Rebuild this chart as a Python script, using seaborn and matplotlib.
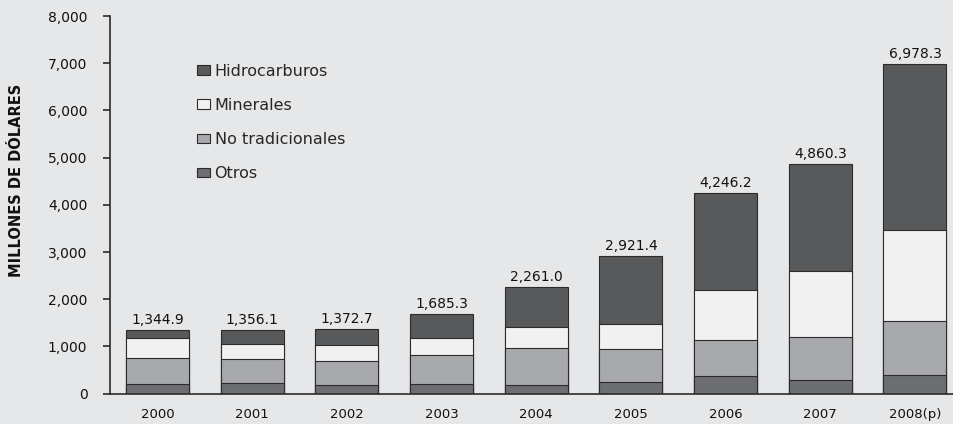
import matplotlib
matplotlib.use("Agg")
import matplotlib.pyplot as plt
import matplotlib.patches as mpatches
import seaborn as sns

# Data (millones de dólares)
years = ["2000", "2001", "2002", "2003", "2004", "2005", "2006", "2007", "2008(p)"]
otros = [200, 225, 185, 200, 180, 240, 370, 285, 390]
no_tradicionales = [550, 505, 510, 615, 790, 705, 770, 925, 1150]
minerales = [425, 330, 345, 370, 440, 535, 1050, 1385, 1935]
hidrocarburos = [169.9, 296.1, 332.7, 500.3, 851.0, 1441.4, 2056.2, 2265.3, 3503.3]
totals = [1344.9, 1356.1, 1372.7, 1685.3, 2261.0, 2921.4, 4246.2, 4860.3, 6978.3]

series_names = ["Hidrocarburos", "Minerales", "No tradicionales", "Otros"]
colors = {"Hidrocarburos": "#58595B", "Minerales": "#F1F1F2",
          "No tradicionales": "#A7A9AC", "Otros": "#6D6E71"}
bg = "#E6E7E8"
edge = "#2B2B2B"

sns.set_style("white")
plt.rcParams["font.family"] = ["DejaVu Sans"]

fig = plt.figure(figsize=(9.54, 4.24), dpi=100, facecolor=bg)
ax = fig.add_axes([110.3 / 954, 30.3 / 424, 852 / 954, 377.7 / 424])
ax.set_facecolor(bg)

# cumulative stacks, drawn from the tallest down
layers = [hidrocarburos, minerales, no_tradicionales, otros]
for k, name in enumerate(series_names):
    cum = [sum(vals) for vals in zip(*layers[k:])]
    sns.barplot(x=years, y=cum, color=colors[name], saturation=1, width=0.665,
                edgecolor=edge, linewidth=0.8, ax=ax, errorbar=None)

# total labels
for i, t in enumerate(totals):
    ax.annotate(f"{t:,.1f}", (i, t), xytext=(0, 2), textcoords="offset points",
                ha="center", va="bottom", fontsize=10, color="#111111")

ax.set_xlim(-0.5, len(years) - 0.5)
ax.set_ylim(0, 8000)
ax.set_yticks(range(0, 8001, 1000))
ax.set_yticklabels([f"{v:,}" for v in range(0, 8001, 1000)])
ax.set_xticks(range(len(years)))
ax.set_xticklabels(years)
ax.set_xticks([i - 0.5 for i in range(len(years) + 1)], minor=True)
ax.tick_params(axis="x", which="major", length=0, pad=10, labelsize=9.5, labelcolor="#111111")
ax.tick_params(axis="x", which="minor", length=4, width=1.2, color=edge, direction="out")
ax.tick_params(axis="y", length=5, width=1.2, color=edge, pad=11.5, labelsize=10,
               labelcolor="#111111", left=True)
ax.set_xlabel("")
ax.set_ylabel("")

for s in ["top", "right"]:
    ax.spines[s].set_visible(False)
for s in ["left", "bottom"]:
    ax.spines[s].set_color(edge)
    ax.spines[s].set_linewidth(1.2)

fig.text(17 / 954, 1 - 180 / 424, "MILLONES DE DÓLARES", rotation=90,
         ha="center", va="center", fontsize=10.5, fontweight="bold", color="#111111")

handles = [mpatches.Patch(facecolor=colors[n], edgecolor=edge, linewidth=0.8, label=n)
           for n in series_names]
ax.legend(handles=handles, loc="upper left", bbox_to_anchor=(0.102, 0.874),
          frameon=False, fontsize=11.5, handlelength=0.79, handleheight=0.52,
          handletextpad=0.3, labelspacing=1.2, borderpad=0, borderaxespad=0)

fig.savefig("out.png", dpi=100, facecolor=bg)
